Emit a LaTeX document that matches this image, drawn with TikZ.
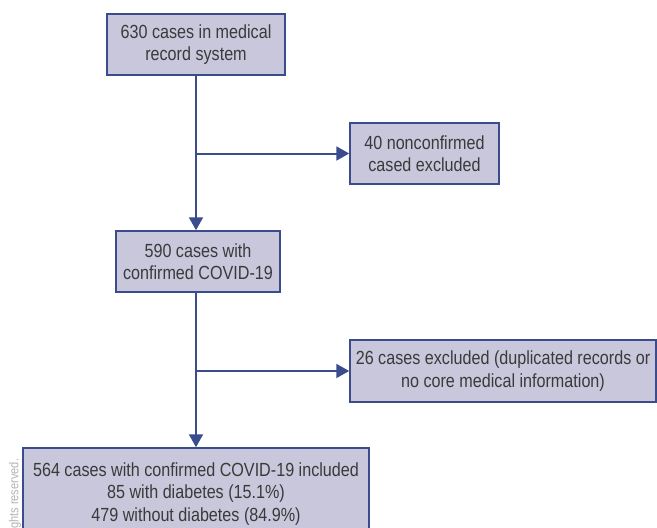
\documentclass[tikz,border=0pt]{standalone}
\usepackage{fontspec}
\setmainfont{Liberation Sans}[FakeStretch=0.85]
\usepackage{tikz}
\usetikzlibrary{arrows.meta}
\definecolor{boxfill}{HTML}{C9C7DC}
\definecolor{boxline}{HTML}{3A4C8C}
\definecolor{txtgray}{HTML}{3A3A3A}
\tikzset{
    flowbox/.style={draw=boxline, fill=boxfill, line width=1.5pt, align=center, text=txtgray, inner sep=0pt, font=\fontsize{19}{22.5}\selectfont}, % box of one step
    flowarrow/.style={draw=boxline, line width=2pt, -{Triangle[length=13pt,width=14pt]}} % connector
}
\begin{document}
\begin{tikzpicture}[x=1pt, y=-1pt]
            \clip (0,0) rectangle (657,528);

            \node[flowbox, minimum width=178pt, minimum height=61pt] (recs) at (196,44.5) {630 cases in medical\\record system};
            \node[flowbox, minimum width=149pt, minimum height=61pt] (nonconf) at (424.5,153.5) {40 nonconfirmed\\cased excluded};
            \node[flowbox, minimum width=164pt, minimum height=61pt] (conf) at (198,261.5) {590 cases with\\confirmed COVID-19};
            \node[flowbox, minimum width=306pt, minimum height=62pt] (dupl) at (503,371) {26 cases excluded (duplicated records or\\no core medical information)};
            \node[flowbox, minimum width=346pt, minimum height=92pt] (incl) at (196,494) {564 cases with confirmed COVID-19 included\\85 with diabetes (15.1\%)\\479 without diabetes (84.9\%)};

            \draw[flowarrow] (recs.south) -- (recs.south |- conf.north);
            \draw[flowarrow] (recs.south |- nonconf.west) -- (nonconf.west);
            \draw[flowarrow] (recs.south |- conf.south) -- (incl.north);
            \draw[flowarrow] (recs.south |- dupl.west) -- (dupl.west);

            \node[rotate=90, anchor=west, inner sep=0pt, text=gray!60, font=\fontsize{13}{15}\selectfont] (rights) at (15,529) {ghts reserved.};
        \end{tikzpicture}
\end{document}
